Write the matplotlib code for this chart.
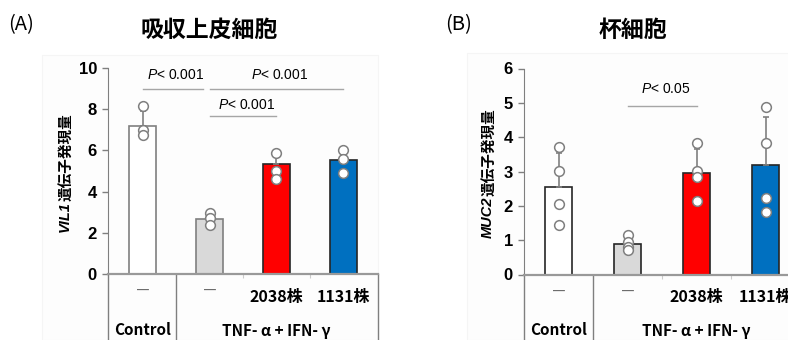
import numpy as np
import matplotlib.pyplot as plt
from matplotlib.patches import Rectangle

plt.rcParams['font.family'] = ['Liberation Sans', 'Noto Sans CJK JP', 'DejaVu Sans']
plt.rcParams['mathtext.fontset'] = 'custom'
plt.rcParams['mathtext.it'] = 'Liberation Sans:italic'
plt.rcParams['mathtext.rm'] = 'Liberation Sans'

# data
grupos = ['Control', 'TNF', '2038', '1131']
etiquetas_cepa = ['―', '―', '2038株', '1131株']
colores = ['#ffffff', '#d9d9d9', '#ff0000', '#0070c0']

# (A) VIL1
vil1_media = [7.18, 2.67, 5.32, 5.53]
vil1_sd = [0.72, 0.2, 0.35, 0.3]
vil1_puntos = [[8.16, 6.99, 6.77],
               [2.96, 2.72, 2.39],
               [5.85, 5.0, 4.62],
               [6.0, 5.6, 4.88]]

# (B) MUC2
muc2_media = [2.54, 0.90, 2.96, 3.18]
muc2_sd = [1.0, 0.2, 0.69, 1.42]
muc2_puntos = [[3.70, 3.01, 2.05, 1.45],
               [1.15, 0.96, 0.80, 0.72],
               [3.82, 3.01, 2.85, 2.14],
               [4.87, 3.84, 2.22, 1.81]]

# comparaciones: (i, j, altura, texto)
vil1_comp = [(0, 0.9, 9.0, 9.65), (1.0, 3.0, 9.0, 9.65), (1.0, 2.0, 7.65, 8.2)]
vil1_ptxt = ['$P$< 0.001', '$P$< 0.001', '$P$< 0.001']
muc2_comp = [(1.0, 2.0, 4.9, 5.4)]
muc2_ptxt = ['$P$< 0.05']

gris = '#7f7f7f'
jp = ['Noto Sans CJK JP', 'DejaVu Sans']


def panel(ax, media, sd, puntos, bordes, ymax, paso, xlim, comp, ptxt):
    x = np.arange(len(media))
    ax.bar(x, media, width=0.4, color=colores, edgecolor=bordes, linewidth=1.2, zorder=2)
    ax.errorbar(x, media, yerr=[np.zeros(len(sd)), sd], fmt='none', ecolor=gris,
                elinewidth=1.2, capsize=2, capthick=1.2, zorder=3)
    for i, pts in enumerate(puntos):
        ax.plot([x[i]] * len(pts), pts, 'o', ms=7, mfc='white', mec=gris, mew=1.1,
                zorder=4, clip_on=False)
    ax.set_xlim(*xlim)
    ax.set_ylim(0, ymax)
    ax.set_yticks(np.arange(0, ymax + 0.1, paso))
    ax.set_xticks([1.5, 2.5])
    ax.set_xticklabels([])
    ax.tick_params(axis='x', length=3, color='#cccccc', direction='out')
    ax.tick_params(axis='y', length=4, color=gris, width=1, pad=4)
    for lab in ax.get_yticklabels():
        lab.set_fontsize(12)
        lab.set_fontweight('bold')
    for s in ['top', 'right']:
        ax.spines[s].set_visible(False)
    ax.spines['left'].set_color(gris)
    ax.spines['bottom'].set_color('#999999')
    ax.spines['bottom'].set_linewidth(1.6)
    ax.patch.set_alpha(0)

    # tabla inferior
    tr = ax.get_xaxis_transform()
    for xv in [xlim[0], 0.5, xlim[1]]:
        ax.plot([xv, xv], [0, -0.5], color=gris, lw=1, transform=tr, clip_on=False)
    for i in range(4):
        if etiquetas_cepa[i] == '―':
            ax.text(x[i], -0.088, '―', transform=tr, ha='center', va='center',
                    fontsize=10, color='#666666', family=jp)
        else:
            ax.text(x[i], -0.11, etiquetas_cepa[i], transform=tr, ha='center', va='center',
                    fontsize=11.5, fontweight='bold', family=jp)
    ax.text(0, -0.27, 'Control', transform=tr, ha='center', va='center',
            fontsize=11, fontweight='bold', family=jp)
    ax.text(2, -0.275, 'TNF- α + IFN- γ', transform=tr, ha='center', va='center',
            fontsize=11, fontweight='bold', family=jp)

    # lineas de significancia
    for (a, b, h, ht), t in zip(comp, ptxt):
        ax.plot([a, b], [h, h], color='#a6a6a6', lw=1, zorder=1)
        ax.text((a + b) / 2 + 0.05, ht, t, ha='center', va='center', fontsize=10)


fig = plt.figure(figsize=(7.88, 3.40), dpi=100)

# marcos tenues
fig.patches.append(Rectangle((42 / 788, 0), 336 / 788, 285 / 340, transform=fig.transFigure,
                             facecolor='#fdfdfd', edgecolor='#f5f5f5', lw=0.8, zorder=-5))
fig.patches.append(Rectangle((467 / 788, 0), 330 / 788, 287 / 340, transform=fig.transFigure,
                             facecolor='#fdfdfd', edgecolor='#f5f5f5', lw=0.8, zorder=-5))

ax1 = fig.add_axes([108 / 788, 66 / 340, 270 / 788, 206 / 340])
panel(ax1, vil1_media, vil1_sd, vil1_puntos, ['#808080', '#808080', '#262626', '#262626'],
      10, 2, (-0.515, 3.515), vil1_comp, vil1_ptxt)

ax2 = fig.add_axes([524 / 788, 65.5 / 340, 276 / 788, 206 / 340])
panel(ax2, muc2_media, muc2_sd, muc2_puntos, ['#262626'] * 4,
      6, 1, (-0.5, 3.5), muc2_comp, muc2_ptxt)

# titulos
fig.text(21 / 788, 1 - 25 / 340, '(A)', ha='center', va='center', fontsize=14.5,
         family=jp)
fig.text(209 / 788, 1 - 30 / 340, '吸収上皮細胞', ha='center', va='center', fontsize=16.5,
         fontweight='bold', family=jp)
fig.text(459 / 788, 1 - 25 / 340, '(B)', ha='center', va='center', fontsize=14.5,
         family=jp)
fig.text(633 / 788, 1 - 30 / 340, '杯細胞', ha='center', va='center', fontsize=16.5,
         fontweight='bold', family=jp)

# etiquetas eje y
t1 = fig.text(65 / 788, 1 - 232 / 340, 'VIL1', rotation=90, ha='center', va='bottom',
              fontsize=10.5, fontweight='bold', style='italic')
ax1.annotate('遺伝子発現量', xy=(0.5, 1), xycoords=t1, rotation=90, ha='center', va='bottom',
             fontsize=10.5, fontweight='bold', family=jp, annotation_clip=False)
t2 = fig.text(488 / 788, 1 - 238 / 340, 'MUC2', rotation=90, ha='center', va='bottom',
              fontsize=10.5, fontweight='bold', style='italic')
ax2.annotate('遺伝子発現量', xy=(0.5, 1), xycoords=t2, rotation=90, ha='center', va='bottom',
             fontsize=10.5, fontweight='bold', family=jp, annotation_clip=False)

fig.savefig('out.png', dpi=100)
